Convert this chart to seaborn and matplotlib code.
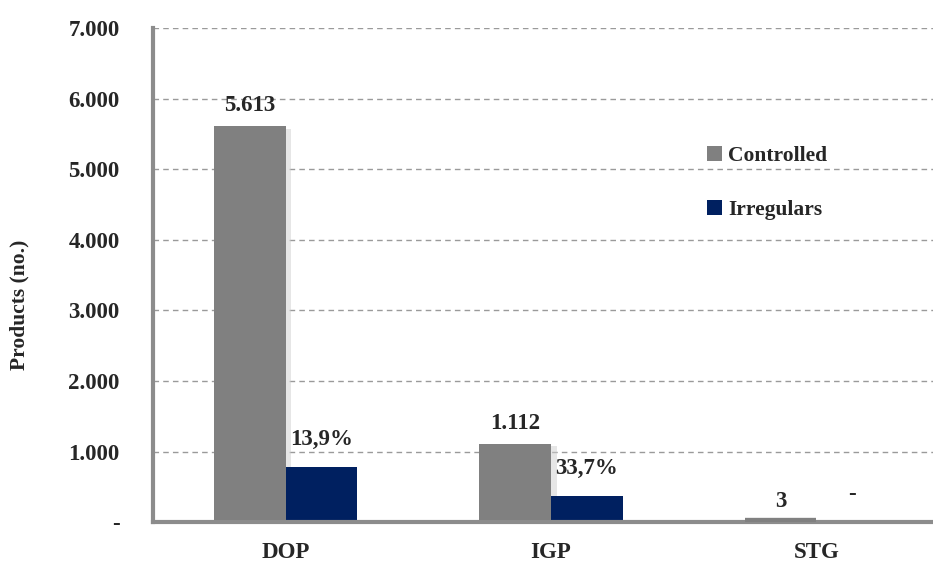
import numpy as np
import pandas as pd
import seaborn as sns
import matplotlib.pyplot as plt
import matplotlib.patheffects as pe
from matplotlib.ticker import FixedLocator

# dati del grafico
categories = ["DOP", "IGP", "STG"]
controlled = [5613, 1112, 3]
irregulars = [780, 375, 0]
controlled_labels = ["5.613", "1.112", "3"]
irregular_labels = ["13,9%", "33,7%", "-"]
y_ticks = [0, 1000, 2000, 3000, 4000, 5000, 6000, 7000]
y_tick_labels = ["-", "1.000", "2.000", "3.000", "4.000", "5.000", "6.000", "7.000"]

df = pd.DataFrame({
    "category": categories * 2,
    "value": controlled + irregulars,
    "series": ["Controlled"] * 3 + ["Irregulars"] * 3,
})

sns.set_style("white")
plt.rcParams["font.family"] = ["Liberation Serif", "DejaVu Serif"]
plt.rcParams["font.weight"] = "bold"

grey = "#808080"
navy = "#002060"
axis_col = "#8c8c8c"
fs = 16.5

fig, ax = plt.subplots(figsize=(9.33, 5.62), dpi=100)
fig.subplots_adjust(left=0.164, right=1.0, top=0.95, bottom=0.071)

sns.barplot(data=df, x="category", y="value", hue="series",
            palette=[grey, navy], width=0.54, gap=0, ax=ax,
            edgecolor="none", saturation=1, legend=True)

# ombra leggera sulle barre grigie
for bar in ax.containers[0]:
    bar.set_path_effects([pe.SimplePatchShadow(offset=(4, -2), shadow_rgbFace="#cfcfcf", alpha=0.5), pe.Normal()])
# bordo spesso per rendere visibile la barra STG (valore 3)
stg_bar = ax.containers[0][2]
stg_bar.set_edgecolor(grey)
stg_bar.set_linewidth(6)
stg_bar.set_zorder(5)

ax.bar_label(ax.containers[0], labels=controlled_labels, padding=7,
             fontsize=fs, fontweight="bold")
ax.bar_label(ax.containers[1], labels=irregular_labels, padding=12,
             fontsize=fs, fontweight="bold")

ax.set_xlim(-0.5, 2.44)
ax.set_ylim(0, 7000)
ax.set_yticks(y_ticks)
ax.set_yticklabels(y_tick_labels, fontsize=fs, fontweight="bold")
ax.yaxis.grid(True, linestyle=(0, (4, 3)), color="#9a9a9a", linewidth=1)
ax.set_axisbelow(True)

ax.xaxis.set_minor_locator(FixedLocator([0.5, 1.5]))
ax.tick_params(axis="x", which="major", length=0, labelsize=fs, pad=14)
ax.tick_params(axis="x", which="minor", length=6, width=3, color=axis_col, direction="out")
ax.tick_params(axis="y", length=6, width=3, color=axis_col, direction="out", pad=18)
for lbl in ax.get_xticklabels():
    lbl.set_fontweight("bold")

for s in ["top", "right"]:
    ax.spines[s].set_visible(False)
for s in ["left", "bottom"]:
    ax.spines[s].set_color(axis_col)
    ax.spines[s].set_linewidth(3)
    ax.spines[s].set_zorder(4)

ax.set_xlabel("")
ax.set_ylabel("Products (no.)", fontsize=15.5, fontweight="bold")
ax.yaxis.set_label_coords(-0.158, 0.44)

ax.legend(loc="upper left", bbox_to_anchor=(0.685, 0.8), frameon=False,
          prop={"size": fs - 1, "weight": "bold"}, labelspacing=1.55,
          handlelength=0.7, handleheight=0.7, handletextpad=0.3)

plt.savefig("out.png", dpi=100)
